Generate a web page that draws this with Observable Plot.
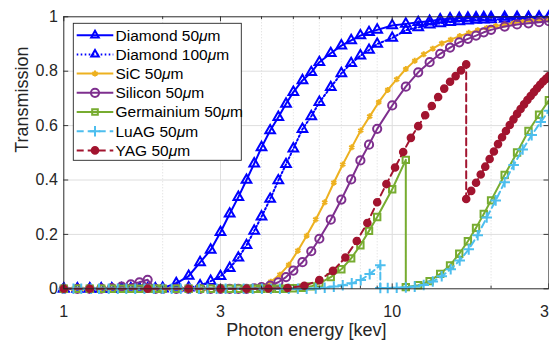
<!DOCTYPE html>
<html><head><meta charset="utf-8">
<script src="https://cdn.jsdelivr.net/npm/d3@7"></script>
<script src="https://cdn.jsdelivr.net/npm/@observablehq/plot@0.6"></script>
<style>
body{margin:0;background:#fff;}
#chart{width:549px;height:342px;}
</style>
</head><body><div id="chart"></div>
<script>
// ---------- data ----------
const seriesNames = ["Diamond 50μm","Diamond 100μm","SiC 50μm","Silicon 50μm","Germainium 50μm","LuAG 50μm","YAG 50μm"];
const seriesColors = ["#0000ff","#0000ff","#EDB120","#7E2F8E","#77AC30","#4DBEEE","#A2142F"];

const energyA = [1.0,1.1,1.2,1.3,1.4,1.5,1.6,1.7,1.8,1.9,2.0,
  2.2,2.4,2.6,2.8,3.0,3.2,3.4,3.6,3.8,4.0,
  4.25,4.5,4.75,5.0,5.33,5.67,6.0,6.5,7.0,7.5,8.0,8.5,9.0,
  10,11,12,13,14,15,16,17,18,19,20,22,24,26,28,30];
const diamond50 = [0,0,0,0,0,0,0,0,0,0,0.003,
  0.02,0.047,0.097,0.143,0.208,0.276,0.337,0.40,0.46,0.52,
  0.582,0.631,0.68,0.723,0.766,0.796,0.833,0.866,0.894,0.913,0.931,0.943,0.952,
  0.968,0.974,0.98,0.984,0.99,0.993,0.995,0.996,0.997,0.998,0.998,0.999,0.999,0.999,1.0,1.0];
const diamond100 = [0,0,0,0,0,0,0,0,0,0,0,
  0.001,0.004,0.012,0.028,0.046,0.076,0.114,0.16,0.213,0.265,
  0.33,0.398,0.458,0.515,0.587,0.634,0.686,0.741,0.792,0.829,0.857,0.878,0.90,
  0.922,0.951,0.961,0.971,0.976,0.98,0.983,0.986,0.988,0.989,0.99,0.992,0.993,0.994,0.995,0.996];
const silicon = [0,0,0,0.001,0.003,0.008,0.016,0.024,0.033,0,0,
  0,0,0,0,0,0,0,0,0.002,0.006,
  0.012,0.024,0.043,0.067,0.098,0.138,0.184,0.254,0.328,0.402,0.472,0.53,0.588,
  0.674,0.743,0.796,0.833,0.864,0.887,0.906,0.919,0.931,0.943,0.952,0.964,0.972,0.976,0.98,0.984];

const energyGe = [1.0,1.1,1.2,1.3,1.4,1.5,1.6,1.7,1.8,1.9,2.0,
  2.2,2.4,2.6,2.8,3.0,3.2,3.4,3.6,3.8,4.0,
  4.25,4.5,4.75,5.0,5.33,5.67,6.0,6.5,7.0,7.5,8.0,8.5,9.0,
  10,11,11,12,13,14,15,16,17,18,19,20,22,24,26,28,30];
const germanium = [0,0,0,0,0,0,0,0,0,0,0,
  0,0,0,0,0,0,0,0,0,0,
  0,0,0,0.002,0.004,0.009,0.02,0.043,0.072,0.112,0.16,0.213,0.264,
  0.366,0.474,0.006,0.013,0.028,0.055,0.086,0.129,0.175,0.224,0.275,0.325,0.419,0.501,0.58,0.64,0.693];

const energySiC = [1.00,1.07,1.13,1.21,1.28,1.37,1.46,1.55,1.65,1.76,1.88,2.00,2.13,2.27,2.42,2.58,2.74,2.92,3.11,3.32,3.53,
  3.76,4.01,4.27,4.55,4.84,5.16,5.49,5.85,6.23,6.64,7.07,7.53,8.02,8.54,9.10,9.69,10.32,11.0,11.71,12.47,13.29,14.15,15.07,
  16.05,17.1,18.21,19.4,20.66,22.0,23.43,24.96,26.59,28.32,30.0];
const sic = [0,0,0,0,0,0,0,0,0,0,0,0,0,0,0,0,0,0,0,0,0,
  0.004,0.01,0.026,0.052,0.088,0.14,0.195,0.255,0.318,0.39,0.457,0.52,0.582,0.634,0.686,0.731,0.77,0.808,0.838,0.862,0.883,0.902,0.916,
  0.929,0.941,0.951,0.959,0.966,0.972,0.977,0.981,0.985,0.988,0.99];

const energyLuAG = [1.00,1.07,1.13,1.21,1.28,1.37,1.46,1.55,1.65,1.76,1.88,2.00,2.13,2.27,2.42,2.58,2.74,2.92,3.11,3.32,3.53,
  3.76,4.01,4.27,4.55,4.84,5.16,5.49,5.85,6.23,6.64,7.07,7.53,8.02,8.54,9.2,9.2,9.69,10.32,11.0,11.71,12.47,13.29,14.15,15.07,
  16.05,17.1,18.21,19.4,20.66,22.0,23.43,24.96,26.59,28.32,30.0];
const luag = [0,0,0,0,0,0,0,0,0,0,0,0,0,0,0,0,0,0,0,0,0,
  0,0,0,0,0,0,0,0.001,0.004,0.008,0.013,0.02,0.032,0.054,0.087,0.003,0.003,0.004,0.005,0.008,0.014,0.027,0.046,0.072,
  0.104,0.145,0.197,0.262,0.325,0.392,0.455,0.512,0.565,0.613,0.655];

const energyYAG = [1.0,1.2,1.8,2.4,3.0,3.6,4.2,4.8,5.4,6.0,6.6,7.2,7.8,8.4,9.0,9.6,10.2,10.8,11.4,12.0,12.6,13.2,13.8,14.4,15.0,15.6,16.2,16.8,
  16.8,17.4,18.0,18.6,19.2,19.8,20.4,21.0,21.6,22.2,22.8,23.4,24.0,24.6,25.2,25.8,26.4,27.0,27.6,28.2,28.8,29.4,30.0];
const yag = [0,0,0,0,0,0,0.001,0.003,0.011,0.032,0.066,0.115,0.176,0.242,0.318,0.385,0.446,0.503,0.555,0.598,0.638,0.672,0.705,0.736,0.761,0.782,0.803,0.825,
  0.33,0.36,0.39,0.42,0.449,0.477,0.505,0.532,0.557,0.58,0.602,0.623,0.643,0.661,0.678,0.694,0.709,0.723,0.737,0.75,0.762,0.772,0.782];

const xTicks = [1,3,10,30];
const xTickLabels = ["1","3","10","30"];
const xMinor = [2,4,5,6,7,8,9,20];
const yTicks = [0,0.2,0.4,0.6,0.8,1];
const yTickLabels = ["0","0.2","0.4","0.6","0.8","1"];
const xLabel = "Photon energy [kev]";
const yLabel = "Transmission";

// ---------- styles ----------
const styles = [
  {symbol:"triangle", r:3.6, dash:null,      fill:"none"},
  {symbol:"triangle", r:3.6, dash:"1.6,2.4", fill:"none"},
  {symbol:"asterisk", r:2.8, dash:null,      fill:"none"},
  {symbol:"circle",   r:4.1, dash:null,      fill:"none"},
  {symbol:"square",   r:3.6, dash:null,      fill:"none"},
  {symbol:"plus",     r:3.5, dash:"7,4",     fill:"none"},
  {symbol:"circle",   r:3.3, dash:"7,4",     fill:"fill"}
];
const energies = [energyA, energyA, energySiC, energyA, energyGe, energyLuAG, energyYAG];
const values = [diamond50, diamond100, sic, silicon, germanium, luag, yag];

const tables = values.map((vals, k) => energies[k].map((e, i) => ({series: seriesNames[k], energy: e, T: vals[i]})));

const LW = 2, MW = 2;
const seriesMarks = [];
tables.forEach((rows, k) => {
  const s = styles[k], c = seriesColors[k];
  seriesMarks.push(Plot.line(rows, {x:"energy", y:"T", stroke:c, strokeWidth:LW, strokeDasharray:s.dash || undefined, curve:"linear"}));
  seriesMarks.push(Plot.dot(rows, {x:"energy", y:"T", symbol:s.symbol, r:s.r, stroke:c, strokeWidth:MW,
    fill: s.fill === "fill" ? c : "none"}));
});

const tickLenY = 0.018, minorLenY = 0.010, tickFactX = 1.035;
const gridColor = "#dedede";

const chart = Plot.plot({
  width: 549, height: 342,
  marginLeft: 63.3, marginRight: 0.6, marginTop: 16.3, marginBottom: 53.7,
  style: {fontFamily: "'Liberation Sans', Arial, sans-serif", fontSize: "16px", background: "#fff", color: "#262626", overflow: "visible"},
  x: {type: "log", domain: [1, 30]},
  y: {domain: [0, 1]},
  marks: [
    Plot.ruleX(xMinor, {x: d => d, stroke: "#d0d0d0", strokeWidth: 0.8, strokeDasharray: "1,2"}),
    Plot.ruleX(xTicks, {x: d => d, stroke: gridColor, strokeWidth: 1}),
    Plot.ruleY(yTicks, {y: d => d, stroke: gridColor, strokeWidth: 1}),
    ...seriesMarks,
    Plot.frame({stroke: "#262626", strokeWidth: 0.9}),
    // inward tick marks
    Plot.ruleX(xTicks, {x: d => d, y1: 0, y2: tickLenY, stroke: "#262626", strokeWidth: 0.9}),
    Plot.ruleX(xTicks, {x: d => d, y1: 1, y2: 1 - tickLenY, stroke: "#262626", strokeWidth: 0.9}),
    Plot.ruleX(xMinor, {x: d => d, y1: 0, y2: minorLenY, stroke: "#262626", strokeWidth: 0.9}),
    Plot.ruleX(xMinor, {x: d => d, y1: 1, y2: 1 - minorLenY, stroke: "#262626", strokeWidth: 0.9}),
    Plot.ruleY(yTicks, {y: d => d, x1: 1, x2: tickFactX, stroke: "#262626", strokeWidth: 0.9}),
    Plot.ruleY(yTicks, {y: d => d, x1: 30, x2: 30 / tickFactX, stroke: "#262626", strokeWidth: 0.9}),
    Plot.axisX({ticks: xTicks, tickSize: 0, tickPadding: 17, tickFormat: (d) => xTickLabels[xTicks.indexOf(d)], label: null, fontSize: 16}),
    Plot.axisY({ticks: yTicks, tickSize: 0, tickPadding: 6, tickFormat: (d) => yTickLabels[yTicks.indexOf(d)], label: null, fontSize: 16}),
    Plot.text([xLabel], {frameAnchor: "bottom", text: d => d, dy: 47, fontSize: 18, fill: "#262626"}),
    Plot.text([yLabel], {frameAnchor: "left", text: d => d, rotate: -90, dx: -42, fontSize: 18, fill: "#262626"})
  ]
});
document.getElementById("chart").appendChild(chart);

// ---------- legend (inside plot, top-left) ----------
const svg = d3.select(chart.tagName.toLowerCase() === "svg" ? chart : chart.querySelector("svg"));
const lg = svg.append("g").attr("font-family", "'Liberation Sans', Arial, sans-serif").attr("font-size", 15.5).attr("text-anchor", "start");
const lx = 73.3, ly = 23.3, lw = 168, lh = 137, row0 = 35.2, rowStep = 19.2;
lg.append("rect").attr("x", lx).attr("y", ly).attr("width", lw).attr("height", lh)
  .attr("fill", "#fff").attr("stroke", "#262626").attr("stroke-width", 0.9);
const symMap = {triangle: d3.symbolTriangle2, asterisk: d3.symbolAsterisk, circle: d3.symbolCircle, square: d3.symbolSquare2, plus: d3.symbolPlus};
seriesNames.forEach((name, k) => {
  const y = row0 + rowStep * k, s = styles[k], c = seriesColors[k];
  lg.append("line").attr("x1", 76.7).attr("x2", 113.3).attr("y1", y).attr("y2", y)
    .attr("stroke", c).attr("stroke-width", LW).attr("stroke-dasharray", s.dash || null);
  lg.append("path").attr("d", d3.symbol(symMap[s.symbol], Math.PI * s.r * s.r)())
    .attr("transform", `translate(95,${y})`)
    .attr("fill", s.fill === "fill" ? c : "none").attr("stroke", c).attr("stroke-width", MW);
  const parts = name.split("μ");
  const t = lg.append("text").attr("x", 115.5).attr("y", y).attr("dy", "0.35em").attr("fill", "#000").attr("text-anchor", "start");
  t.append("tspan").text(parts[0]);
  t.append("tspan").attr("font-style", "italic").text("μ");
  t.append("tspan").text(parts[1]);
});
</script>
</body></html>
